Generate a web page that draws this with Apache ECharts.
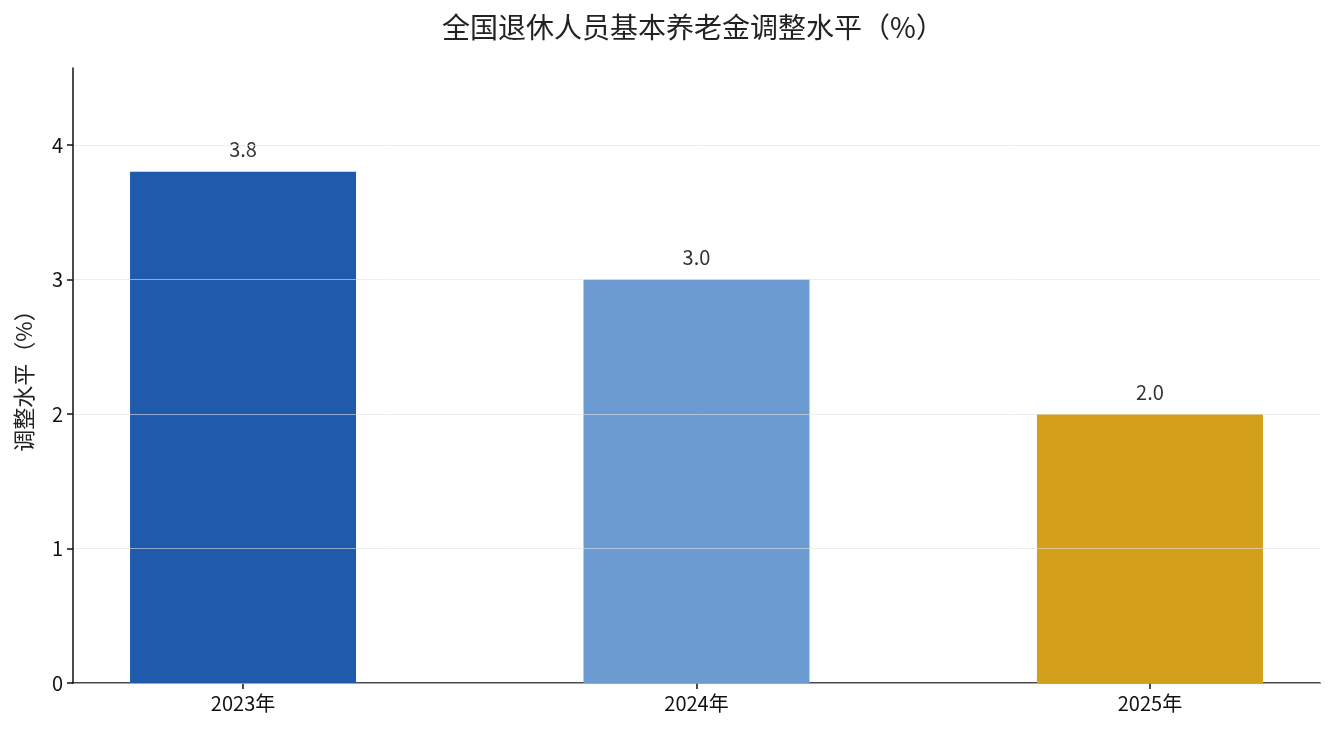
<!DOCTYPE html>
<html>
<head>
<meta charset="utf-8">
<script src="https://cdn.jsdelivr.net/npm/echarts@6/dist/echarts.min.js"></script>
<style>
  html, body { margin: 0; padding: 0; background: #fff; }
  #chart { width: 1335px; height: 735px; }
</style>
</head>
<body>
<div id="chart"></div>
<script>
var categories = ['2023年', '2024年', '2025年'];
var values = [3.8, 3.0, 2.0];
var barColors = ['#1f5aad', '#6c9bd2', '#d4a01b'];
var yTicks = [0, 1, 2, 3, 4];

var FONT = '"Noto Sans CJK SC", "Noto Sans", sans-serif';

var chart = echarts.init(document.getElementById('chart'));

var data = [];
for (var i = 0; i < values.length; i++) {
    data.push({ value: [i, values[i]], itemStyle: { color: barColors[i] } });
}

var option = {
    backgroundColor: '#ffffff',
    animation: false,
    title: {
        text: '全国退休人员基本养老金调整水平（%）',
        left: 688,
        textAlign: 'center',
        top: 8,
        textStyle: { fontFamily: FONT, fontSize: 28, fontWeight: 'normal', color: '#222' }
    },
    grid: { left: 73, right: 15, top: 68, bottom: 52 },
    xAxis: {
        type: 'value',
        min: -0.375,
        max: 2.375,
        splitLine: { show: false },
        axisLine: { show: true, onZero: false, lineStyle: { color: '#111', width: 1.5 } },
        axisTick: { show: true, customValues: [0, 1, 2], length: 6, lineStyle: { color: '#111', width: 1.5 } },
        axisLabel: {
            customValues: [0, 1, 2],
            formatter: function (v) { return categories[Math.round(v)]; },
            fontFamily: FONT, fontSize: 20, color: '#111', margin: 10
        }
    },
    yAxis: {
        type: 'value',
        min: 0,
        max: 4.572,
        z: 3,
        name: '调整水平（%）',
        nameLocation: 'middle',
        nameGap: 38,
        nameRotate: 90,
        nameTextStyle: { fontFamily: FONT, fontSize: 22, color: '#222' },
        axisLine: { show: true, onZero: false, lineStyle: { color: '#111', width: 1.5 } },
        axisTick: { show: true, customValues: yTicks, length: 6, lineStyle: { color: '#111', width: 1.5 } },
        axisLabel: {
            customValues: yTicks,
            fontFamily: FONT, fontSize: 20, color: '#111', margin: 10
        },
        splitLine: { show: true, lineStyle: { color: 'rgba(225,225,225,0.6)', width: 1 } }
    },
    series: [{
        type: 'bar',
        data: data,
        barWidth: 226,
        label: {
            show: true,
            position: 'top',
            distance: 12,
            formatter: function (p) { return p.value[1].toFixed(1); },
            fontFamily: FONT, fontSize: 20, color: '#333'
        }
    }]
};

chart.setOption(option);
</script>
</body>
</html>
